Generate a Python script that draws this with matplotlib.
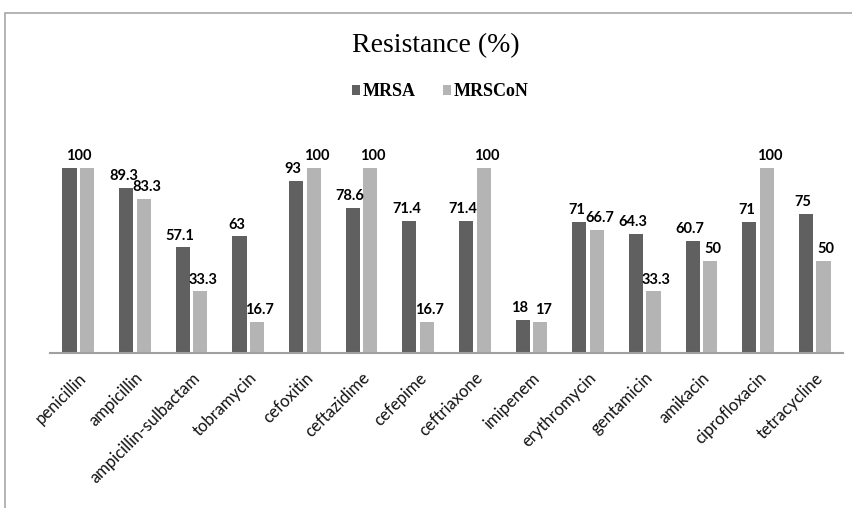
import numpy as np
import matplotlib.pyplot as plt
from matplotlib.patches import Rectangle

antibiotics = ['penicillin', 'ampicillin', 'ampicillin-sulbactam', 'tobramycin',
               'cefoxitin', 'ceftazidime', 'cefepime', 'ceftriaxone', 'imipenem',
               'erythromycin', 'gentamicin', 'amikacin', 'ciprofloxacin', 'tetracycline']
mrsa = [100, 89.3, 57.1, 63, 93, 78.6, 71.4, 71.4, 18, 71, 64.3, 60.7, 71, 75]
mrscon = [100, 83.3, 33.3, 16.7, 100, 100, 16.7, 100, 17, 66.7, 33.3, 50, 100, 50]

dark = '#606060'
light = '#b4b4b4'

W, H = 853, 508
fig = plt.figure(figsize=(W / 100, H / 100), dpi=100)

# outer frame (chart border, cut off at right/bottom)
fig.patches.append(Rectangle((5 / W, -0.2), 1.5, 1.2 - 13 / H, transform=fig.transFigure,
                             fill=False, edgecolor='#a8a8a8', linewidth=1.2))

ax = fig.add_axes([50 / W, (H - 353) / H, (843 - 50) / W, (353 - 168) / H])
x = np.arange(len(antibiotics))
bw = 0.25
off = 0.155
b1 = ax.bar(x - off, mrsa, bw, color=dark, label='MRSA')
b2 = ax.bar(x + off, mrscon, bw, color=light, label='MRSCoN')

ax.set_xlim(-0.5, len(antibiotics) - 0.5)
ax.set_ylim(0, 100)
for s in ['top', 'right', 'left']:
    ax.spines[s].set_visible(False)
ax.spines['bottom'].set_color('#a0a0a0')
ax.spines['bottom'].set_linewidth(1.5)
ax.set_yticks([])
ax.set_xticks(x)
ax.set_xticklabels(antibiotics, rotation=45, ha='right', va='top', rotation_mode='anchor',
                   family='Lato', fontsize=12, color='#111111')
ax.tick_params(axis='x', length=0, pad=12)


def fmt(v):
    return f'{v:g}'


lab = dict(ha='center', va='bottom', textcoords='offset points', fontsize=10.5,
           fontweight='bold', family='Lato', annotation_clip=False)
for i in range(len(antibiotics)):
    if mrsa[i] == mrscon[i]:
        ax.annotate(fmt(mrsa[i]), (x[i], mrsa[i]), xytext=(0, 3.5), **lab)
    else:
        ax.annotate(fmt(mrsa[i]), (x[i] - off, mrsa[i]), xytext=(-2, 3.5), **lab)
        ax.annotate(fmt(mrscon[i]), (x[i] + off, mrscon[i]), xytext=(2, 3.5), **lab)

fig.text(436 / W, 1 - 46 / H, 'Resistance (%)', ha='center', va='center',
         family='Liberation Serif', fontsize=20)
fig.legend(handles=[b1, b2], loc='center', bbox_to_anchor=(440 / W, 1 - 92 / H), ncol=2,
           frameon=False, prop={'family': 'Liberation Serif', 'size': 13, 'weight': 'bold'},
           handlelength=0.45, handleheight=0.45, handletextpad=0.15, columnspacing=1.5)

fig.savefig('out.png', dpi=100)
